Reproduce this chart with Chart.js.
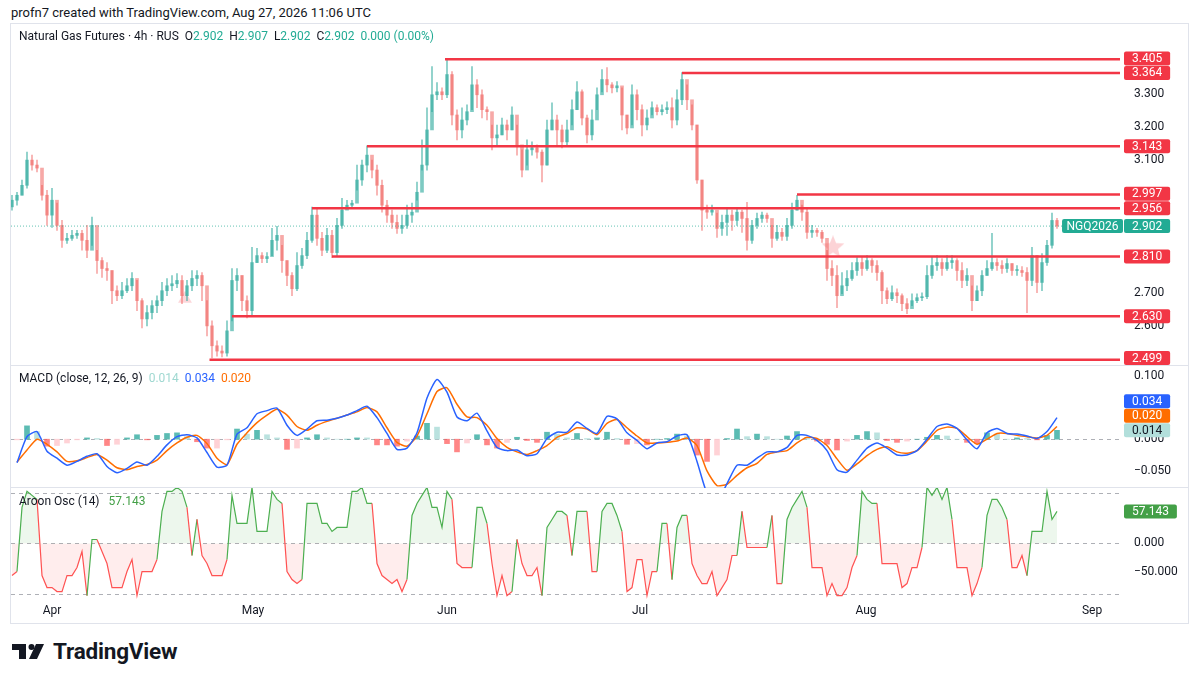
<!DOCTYPE html>
<html>
<head>
<meta charset="utf-8">
<title>Natural Gas Futures 4h</title>
<script src="https://cdn.jsdelivr.net/npm/chart.js@4.4.1/dist/chart.umd.min.js"></script>
<style>
  html, body { margin: 0; padding: 0; background: #fff; }
  body { width: 1200px; height: 675px; position: relative; overflow: hidden;
         font-family: Roboto, "Noto Sans", sans-serif; color: #131722; }
  .frame { position: absolute; left: 10px; top: 23px; width: 1177px; height: 599px; border: 1px solid #e0e3eb; }
  .sep { position: absolute; left: 10px; width: 1179px; height: 1px; background: #e0e3eb; }
  canvas { position: absolute; left: 0; }
  .txt { position: absolute; white-space: nowrap; z-index: 5; line-height: 14px; }
  .txt span { margin-left: 6px; }
  .up { color: #22ab94; }
  .logo { position: absolute; left: 12px; top: 638px; display: flex; align-items: center; }
  .logo b { font-size: 22.5px; font-weight: 700; margin-left: 9px; letter-spacing: -0.2px; }
</style>
</head>
<body>
<div class="txt" style="left:11px;top:6px;font-size:13px">profn7 created with TradingView.com, Aug 27, 2026 11:06 UTC</div>
<div class="frame"></div>
<div class="sep" style="top:365px"></div>
<div class="sep" style="top:487px"></div>

<canvas id="price" width="1200" height="341" style="top:24px"></canvas>
<canvas id="macd" width="1200" height="122" style="top:366px"></canvas>
<canvas id="aroon" width="1200" height="135" style="top:488px"></canvas>

<div class="txt" style="left:19px;top:29px;font-size:12px">Natural Gas Futures · 4h · RUS<span>O<i class="up" style="font-style:normal">2.902</i></span><span>H<i class="up" style="font-style:normal">2.907</i></span><span>L<i class="up" style="font-style:normal">2.902</i></span><span>C<i class="up" style="font-style:normal">2.902</i></span><span class="up">0.000 (0.00%)</span></div>
<div class="txt" style="left:19px;top:371px;font-size:12px">MACD (close, 12, 26, 9)<span style="color:#9fd8d1">0.014</span><span style="color:#2962ff">0.034</span><span style="color:#ff6d00">0.020</span></div>
<div class="txt" style="left:19px;top:494px;font-size:12px">Aroon Osc (14)<span style="color:#43a047;margin-left:9px">57.143</span></div>

<div class="logo">
  <svg width="32" height="15" viewBox="0 0 32 15"><path d="M0 0H14V15H7V6H0Z" fill="#131722"/><circle cx="19.5" cy="3" r="3" fill="#131722"/><path d="M24 0H32L25 15H17Z" fill="#131722"/></svg>
  <b>TradingView</b>
</div>

<script>
// ---------- data ----------
const monthLabels = ['Apr', 'May', 'Jun', 'Jul', 'Aug', 'Sep'];
const monthTicks = [8, 48.2, 87, 125.6, 170.8, 216];   // bar number where the month starts

const firstOpen = 2.960;
const closes = [
  2.980, 2.995, 3.025, 3.101, 3.086, 3.077, 2.995, 2.935, 2.980, 2.904,
  2.859, 2.865, 2.874, 2.880, 2.859, 2.829, 2.904, 2.798, 2.774, 2.768,
  2.707, 2.692, 2.707, 2.722, 2.744, 2.677, 2.622, 2.641, 2.662, 2.677,
  2.707, 2.722, 2.728, 2.738, 2.692, 2.722, 2.744, 2.753, 2.722, 2.601,
  2.541, 2.525, 2.519, 2.586, 2.738, 2.753, 2.677, 2.647, 2.792, 2.813,
  2.804, 2.810, 2.859, 2.874, 2.798, 2.753, 2.713, 2.783, 2.813, 2.859,
  2.935, 2.865, 2.829, 2.874, 2.822, 2.904, 2.950, 2.965, 2.971, 3.041,
  3.086, 3.116, 3.071, 3.025, 2.965, 2.935, 2.913, 2.895, 2.904, 2.935,
  2.944, 3.004, 3.086, 3.192, 3.298, 3.307, 3.298, 3.359, 3.237, 3.192,
  3.222, 3.247, 3.328, 3.298, 3.253, 3.247, 3.168, 3.177, 3.207, 3.192,
  3.237, 3.147, 3.071, 3.132, 3.138, 3.125, 3.086, 3.192, 3.222, 3.192,
  3.156, 3.192, 3.253, 3.307, 3.228, 3.177, 3.222, 3.298, 3.344, 3.328,
  3.319, 3.325, 3.237, 3.198, 3.298, 3.253, 3.207, 3.228, 3.259, 3.247,
  3.253, 3.259, 3.222, 3.283, 3.344, 3.283, 3.207, 3.041, 2.950, 2.944,
  2.950, 2.895, 2.913, 2.935, 2.919, 2.944, 2.925, 2.859, 2.904, 2.925,
  2.935, 2.925, 2.865, 2.883, 2.871, 2.904, 2.950, 2.980, 2.944, 2.883,
  2.889, 2.883, 2.865, 2.774, 2.753, 2.692, 2.722, 2.744, 2.768, 2.792,
  2.774, 2.798, 2.783, 2.762, 2.707, 2.683, 2.701, 2.692, 2.668, 2.653,
  2.677, 2.686, 2.689, 2.753, 2.783, 2.792, 2.774, 2.792, 2.798, 2.768,
  2.738, 2.753, 2.677, 2.707, 2.753, 2.774, 2.792, 2.783, 2.774, 2.789,
  2.768, 2.768, 2.762, 2.738, 2.813, 2.732, 2.792, 2.844, 2.919, 2.902
];
const highs = [
  2.995, 3.004, 3.041, 3.125, 3.116, 3.101, 3.025, 3.010, 3.016, 2.971,
  2.919, 2.880, 2.889, 2.889, 2.889, 2.904, 2.929, 2.829, 2.807, 2.792,
  2.768, 2.722, 2.732, 2.744, 2.762, 2.738, 2.683, 2.662, 2.677, 2.692,
  2.732, 2.744, 2.753, 2.759, 2.753, 2.738, 2.768, 2.768, 2.762, 2.677,
  2.616, 2.556, 2.541, 2.616, 2.774, 2.774, 2.753, 2.692, 2.838, 2.835,
  2.822, 2.822, 2.895, 2.901, 2.844, 2.798, 2.762, 2.822, 2.835, 2.883,
  2.959, 2.956, 2.883, 2.895, 2.889, 2.925, 2.986, 2.980, 2.980, 3.086,
  3.101, 3.144, 3.101, 3.086, 3.041, 2.980, 2.950, 2.935, 2.935, 2.965,
  2.971, 3.035, 3.162, 3.259, 3.383, 3.335, 3.319, 3.404, 3.368, 3.253,
  3.259, 3.268, 3.383, 3.344, 3.313, 3.262, 3.207, 3.207, 3.228, 3.222,
  3.262, 3.207, 3.132, 3.162, 3.156, 3.147, 3.132, 3.222, 3.274, 3.237,
  3.207, 3.222, 3.283, 3.338, 3.313, 3.237, 3.253, 3.319, 3.374, 3.380,
  3.335, 3.338, 3.319, 3.237, 3.328, 3.313, 3.268, 3.253, 3.277, 3.268,
  3.268, 3.277, 3.289, 3.313, 3.365, 3.328, 3.268, 3.207, 3.041, 2.965,
  2.965, 2.941, 2.935, 2.956, 2.950, 2.956, 2.950, 2.974, 2.919, 2.941,
  2.944, 2.941, 2.904, 2.904, 2.895, 2.925, 2.971, 2.995, 2.965, 2.956,
  2.904, 2.895, 2.889, 2.829, 2.798, 2.783, 2.762, 2.768, 2.792, 2.807,
  2.810, 2.813, 2.804, 2.798, 2.768, 2.716, 2.722, 2.713, 2.698, 2.683,
  2.698, 2.698, 2.701, 2.783, 2.810, 2.813, 2.804, 2.813, 2.813, 2.804,
  2.792, 2.774, 2.722, 2.722, 2.768, 2.798, 2.880, 2.804, 2.798, 2.804,
  2.789, 2.783, 2.780, 2.777, 2.838, 2.813, 2.819, 2.859, 2.941, 2.925
];
const lows = [
  2.950, 2.965, 2.995, 3.016, 3.071, 3.065, 2.980, 2.904, 2.898, 2.889,
  2.838, 2.850, 2.859, 2.865, 2.829, 2.807, 2.844, 2.759, 2.747, 2.738,
  2.668, 2.677, 2.683, 2.701, 2.707, 2.647, 2.595, 2.601, 2.622, 2.641,
  2.662, 2.692, 2.707, 2.716, 2.668, 2.677, 2.707, 2.722, 2.677, 2.571,
  2.504, 2.510, 2.507, 2.510, 2.616, 2.707, 2.647, 2.625, 2.631, 2.792,
  2.792, 2.792, 2.813, 2.829, 2.762, 2.722, 2.692, 2.707, 2.774, 2.804,
  2.853, 2.844, 2.813, 2.822, 2.807, 2.813, 2.895, 2.956, 2.956, 3.010,
  3.025, 3.065, 3.047, 2.995, 2.944, 2.913, 2.895, 2.880, 2.880, 2.895,
  2.913, 2.980, 3.071, 3.071, 3.247, 3.283, 3.283, 3.289, 3.207, 3.162,
  3.168, 3.207, 3.253, 3.259, 3.228, 3.222, 3.132, 3.147, 3.177, 3.162,
  3.192, 3.116, 3.050, 3.086, 3.116, 3.107, 3.035, 3.086, 3.192, 3.147,
  3.138, 3.147, 3.207, 3.253, 3.207, 3.153, 3.162, 3.253, 3.307, 3.307,
  3.304, 3.307, 3.192, 3.180, 3.207, 3.222, 3.174, 3.192, 3.237, 3.237,
  3.237, 3.241, 3.198, 3.207, 3.268, 3.253, 3.192, 3.031, 2.889, 2.925,
  2.935, 2.868, 2.874, 2.874, 2.889, 2.904, 2.883, 2.829, 2.850, 2.895,
  2.913, 2.913, 2.838, 2.859, 2.859, 2.859, 2.895, 2.950, 2.919, 2.865,
  2.868, 2.871, 2.853, 2.738, 2.722, 2.656, 2.698, 2.707, 2.738, 2.753,
  2.753, 2.768, 2.762, 2.738, 2.668, 2.668, 2.677, 2.671, 2.647, 2.638,
  2.662, 2.671, 2.677, 2.683, 2.744, 2.768, 2.753, 2.768, 2.774, 2.738,
  2.716, 2.722, 2.647, 2.677, 2.692, 2.753, 2.768, 2.768, 2.759, 2.762,
  2.753, 2.753, 2.750, 2.641, 2.722, 2.701, 2.707, 2.783, 2.835, 2.895
];

// horizontal levels drawn on the chart and the bar where each one starts
const levelValues = [3.405, 3.364, 3.143, 2.997, 2.956, 2.810, 2.630, 2.499];
const levelStart = [86.6, 134, 71, 157, 60, 64, 44, 39.5];

const priceTicks = [2.6, 2.7, 3.1, 3.2, 3.3];
const macdTicks = [-0.05, 0, 0.1];
const aroonTicks = [-50, 0];

// MACD and signal, read every second bar starting at bar 1
const macdLine = [
  -0.037, 0.004, 0.012, -0.019, -0.030, -0.041, -0.035, -0.027, -0.023, -0.043,
  -0.053, -0.046, -0.036, -0.041, -0.027, -0.009, 0.004, 0.007, 0.002, -0.021,
  -0.044, -0.041, 0.008, 0.018, 0.040, 0.045, 0.049, 0.022, 0.006, 0.016,
  0.029, 0.030, 0.033, 0.038, 0.045, 0.052, 0.034, 0.009, -0.016, -0.014,
  0.010, 0.065, 0.094, 0.074, 0.035, 0.029, 0.041, 0.013, -0.013, -0.018,
  -0.017, -0.026, -0.023, 0.001, 0.011, 0.011, 0.027, 0.017, 0.009, 0.036,
  0.032, 0.010, -0.002, -0.015, -0.006, -0.004, 0.005, 0.007, -0.035, -0.085,
  -0.098, -0.070, -0.041, -0.041, -0.030, -0.020, -0.020, -0.013, 0.006, 0.006,
  -0.002, -0.018, -0.048, -0.052, -0.033, -0.014, -0.006, -0.014, -0.025, -0.025,
  -0.018, 0.000, 0.020, 0.024, 0.017, -0.001, -0.015, 0.010, 0.017, 0.009,
  0.008, 0.005, 0.001, 0.012, 0.034
];
const signalLine = [
  -0.036, -0.017, 0.000, -0.008, -0.020, -0.035, -0.034, -0.029, -0.024, -0.033,
  -0.045, -0.048, -0.043, -0.040, -0.033, -0.018, -0.006, 0.003, 0.006, -0.007,
  -0.030, -0.040, -0.008, 0.010, 0.026, 0.038, 0.047, 0.038, 0.020, 0.014,
  0.022, 0.028, 0.033, 0.038, 0.043, 0.050, 0.043, 0.018, -0.005, -0.011,
  0.005, 0.040, 0.075, 0.081, 0.055, 0.035, 0.034, 0.022, 0.001, -0.013,
  -0.020, -0.024, -0.018, -0.010, 0.003, 0.009, 0.018, 0.016, 0.007, 0.025,
  0.031, 0.018, 0.005, -0.006, -0.006, -0.005, -0.003, 0.002, -0.010, -0.050,
  -0.073, -0.071, -0.057, -0.045, -0.038, -0.024, -0.020, -0.018, -0.006, 0.003,
  0.001, -0.010, -0.031, -0.049, -0.039, -0.026, -0.016, -0.012, -0.020, -0.022,
  -0.018, -0.003, 0.014, 0.019, 0.017, 0.004, -0.008, 0.000, 0.009, 0.009,
  0.006, 0.004, 0.002, 0.006, 0.020
];
const macdFirstBar = 1;
const macdEvery = 2;

const aroon = [
  -57.14, -50, 64.29, 92.86, 85.71, 78.57, -57.14, -78.57, -78.57, -85.71,
  -85.71, -57.14, -57.14, -42.86, -14.29, -92.86, 7.14, 7.14, -14.29, -35.71,
  -78.57, -78.57, -78.57, -50, -28.57, -92.86, -50, -50, -50, -28.57,
  57.14, 92.86, 92.86, 100, 92.86, 64.29, -21.43, 42.86, -21.43, -35.71,
  -57.14, -57.14, -57.14, -28.57, 85.71, 35.71, 35.71, 35.71, 100, 21.43,
  21.43, 21.43, 92.86, 78.57, 71.43, -50, -64.29, -71.43, -64.29, 71.43,
  71.43, 71.43, 35.71, 35.71, 21.43, 28.57, 28.57, 28.57, 92.86, 92.86,
  100, 71.43, 71.43, -35.71, -57.14, -64.29, -71.43, -64.29, -85.71, -64.29,
  50, 71.43, 85.71, 100, 64.29, 64.29, 28.57, 92.86, 78.57, -35.71,
  -42.86, -42.86, -42.86, 64.29, 64.29, 35.71, -35.71, -92.86, -57.14, -92.86,
  -85.71, 7.14, -35.71, -57.14, -57.14, -42.86, -92.86, 28.57, 42.86, 57.14,
  57.14, 50, -21.43, 57.14, 57.14, 57.14, -50, -50, 57.14, 71.43,
  71.43, 50, 21.43, -85.71, -78.57, -28.57, -28.57, -92.86, -50, -50,
  35.71, 35.71, -64.29, 28.57, 50, 50, -35.71, -57.14, -71.43, -71.43,
  -50, -92.86, -78.57, -64.29, -21.43, -21.43, 57.14, -7.14, -7.14, -7.14,
  -7.14, -7.14, 50, -71.43, -71.43, 42.86, 64.29, 78.57, 92.86, 64.29,
  -42.86, -42.86, -42.86, -92.86, -71.43, -92.86, -92.86, -78.57, -42.86, -21.43,
  92.86, 78.57, 71.43, 71.43, -35.71, -35.71, -35.71, -35.71, -78.57, -71.43,
  -42.86, -42.86, -7.14, 100, 85.71, 100, 78.57, 100, 42.86, -42.86,
  -42.86, -42.86, -92.86, -71.43, -42.86, 50, 78.57, 78.57, 64.29, 42.86,
  -42.86, -42.86, -21.43, -57.14, 21.43, 21.43, 21.43, 92.86, 42.86, 57.143
];

// faint drawing marks on the price pane (bar, price)
const markerX = [34.6, 164.2];
const markerY = [2.683, 2.838];

// ---------- look ----------
const X_MIN = -0.2, X_MAX = 221.6;
const UP = 'rgba(38,166,154,0.6)';
const DOWN = 'rgba(239,83,80,0.5)';
const RED = '#f23645';
const FONT = 'Roboto, "Noto Sans", sans-serif';
const AXIS_W = 68;

Chart.defaults.font.family = FONT;
Chart.defaults.font.size = 12;
Chart.defaults.color = '#131722';

const fmt = v => (v < 0 ? '\u2212' : '') + Math.abs(v).toFixed(3);

function yAxis(min, max, ticks) {
  return {
    position: 'right', min: min, max: max,
    afterFit: s => { s.width = AXIS_W; s.paddingTop = 0; s.paddingBottom = 0; },
    afterBuildTicks: s => { s.ticks = ticks.map(v => ({ value: v })); },
    ticks: { padding: 14, callback: v => fmt(v), color: '#131722', font: { size: 12 } },
    grid: { display: false, drawTicks: false },
    border: { display: false }
  };
}

function xAxis(show) {
  return {
    type: 'linear', min: X_MIN, max: X_MAX, offset: false, display: show,
    afterFit: s => { s.height = show ? 23 : 0; s.paddingLeft = 0; s.paddingRight = 0; },
    afterBuildTicks: s => { s.ticks = monthTicks.map(v => ({ value: v })); },
    ticks: { autoSkip: false, maxRotation: 0, padding: 4, callback: v => monthLabels[monthTicks.indexOf(v)] },
    grid: { display: false, drawTicks: false },
    border: { display: false }
  };
}

// dashed reference lines across a pane
function hLines(values) {
  return {
    id: 'hLines',
    beforeDatasetsDraw(chart) {
      const { ctx, chartArea: a, scales: { y } } = chart;
      ctx.save();
      ctx.strokeStyle = 'rgba(120,123,134,0.6)';
      ctx.lineWidth = 1;
      ctx.setLineDash([4, 4]);
      values.forEach(v => {
        const py = Math.round(y.getPixelForValue(v)) + 0.5;
        ctx.beginPath(); ctx.moveTo(a.left, py); ctx.lineTo(a.right, py); ctx.stroke();
      });
      ctx.restore();
    }
  };
}

// coloured value boxes on the right scale, pushed apart like TradingView does
function axisBoxes(items) {
  const H = 14;
  return {
    id: 'axisBoxes',
    afterDraw(chart) {
      const { ctx, chartArea: a, scales: { y } } = chart;
      const list = items.map(it => Object.assign({}, it, {
        py: Math.min(Math.max(y.getPixelForValue(it.value), a.top + H / 2), a.bottom - H / 2)
      }));
      list.sort((p, q) => q.py - p.py);
      for (let k = 1; k < list.length; k++) list[k].py = Math.min(list[k].py, list[k - 1].py - H - 0.5);
      ctx.save();
      ctx.font = '12px ' + FONT;
      ctx.textAlign = 'center';
      ctx.textBaseline = 'middle';
      const x0 = a.right + 4;
      list.forEach(it => {
        const w = ctx.measureText(it.text).width + 16;
        if (it.prefix) {
          const pw = ctx.measureText(it.prefix).width + 9;
          ctx.fillStyle = it.bg;
          ctx.beginPath(); ctx.roundRect(x0 - pw - 1, it.py - H / 2, pw, H, 2); ctx.fill();
          ctx.fillStyle = it.fg;
          ctx.fillText(it.prefix, x0 - 1 - pw / 2, it.py + 0.5);
        }
        ctx.fillStyle = it.bg;
        ctx.beginPath(); ctx.roundRect(x0, it.py - H / 2, w, H, 2); ctx.fill();
        ctx.fillStyle = it.fg;
        ctx.fillText(it.text, x0 + w / 2, it.py + 0.5);
      });
      ctx.restore();
    }
  };
}

function starImage(size, color) {
  const c = document.createElement('canvas');
  c.width = c.height = size;
  const g = c.getContext('2d');
  g.fillStyle = color;
  g.beginPath();
  for (let k = 0; k < 10; k++) {
    const r = k % 2 ? size * 0.22 : size * 0.5;
    const ang = -Math.PI / 2 + k * Math.PI / 5;
    g.lineTo(size / 2 + r * Math.cos(ang), size / 2 + r * Math.sin(ang));
  }
  g.closePath();
  g.fill();
  return c;
}

const baseOptions = {
  responsive: false,
  animation: false,
  events: [],
  layout: { autoPadding: false, padding: { left: 11, right: 12, top: 0, bottom: 0 } },
  plugins: { legend: { display: false }, tooltip: { enabled: false } }
};

// ---------- price pane ----------
const opens = closes.map((c, i) => i === 0 ? firstOpen : closes[i - 1]);
const candleColors = closes.map((c, i) => c >= opens[i] ? UP : DOWN);
const lastPrice = closes[closes.length - 1];

const levelSets = levelValues.map((v, k) => ({
  type: 'line',
  data: [{ x: levelStart[k], y: v }, { x: X_MAX, y: v }],
  borderColor: RED, borderWidth: 2.5, pointRadius: 0, order: 1
}));

new Chart(document.getElementById('price'), {
  type: 'bar',
  data: {
    datasets: [
      {
        data: closes.map((c, i) => ({ x: i, y: [lows[i], highs[i]] })),
        backgroundColor: candleColors, barThickness: 1, grouped: false, order: 5
      },
      {
        data: closes.map((c, i) => ({ x: i, y: [opens[i], c] })),
        backgroundColor: candleColors, barThickness: 3, minBarLength: 1, grouped: false, order: 4
      },
      {
        type: 'line',
        data: [{ x: X_MIN, y: lastPrice }, { x: X_MAX, y: lastPrice }],
        borderColor: 'rgba(34,171,148,0.7)', borderWidth: 1, borderDash: [1, 2], pointRadius: 0, order: 3
      },
      {
        type: 'line', showLine: false,
        data: markerX.map((x, k) => ({ x: x, y: markerY[k] })),
        pointStyle: ['triangle', starImage(24, 'rgba(242,54,69,0.22)')],
        pointRadius: [8, 12], backgroundColor: 'rgba(242,54,69,0.2)', borderWidth: 0, order: 6
      }
    ].concat(levelSets)
  },
  options: Object.assign({}, baseOptions, {
    scales: { x: xAxis(false), y: yAxis(2.483, 3.5115, priceTicks) }
  }),
  plugins: [axisBoxes(
    levelValues.map(v => ({ value: v, text: v.toFixed(3), bg: RED, fg: '#ffffff' }))
      .concat([{ value: lastPrice, text: lastPrice.toFixed(3), prefix: 'NGQ2026', bg: '#22ab94', fg: '#ffffff' }])
  )]
});

// ---------- MACD pane ----------
const macdBars = macdLine.map((v, k) => macdFirstBar + k * macdEvery);
const hist = macdLine.map((v, k) => v - signalLine[k]);
const histColors = hist.map((h, k) => {
  const prev = k ? hist[k - 1] : h;
  if (h >= 0) return h >= prev ? 'rgba(38,166,154,0.75)' : 'rgba(178,223,219,0.9)';
  return h < prev ? 'rgba(255,82,82,0.7)' : 'rgba(255,205,210,0.9)';
});

new Chart(document.getElementById('macd'), {
  type: 'bar',
  data: {
    datasets: [
      {
        data: hist.map((h, k) => ({ x: macdBars[k], y: h })),
        backgroundColor: histColors, barThickness: 5, grouped: false, order: 3
      },
      {
        type: 'line', data: macdLine.map((v, k) => ({ x: macdBars[k], y: v })),
        borderColor: '#2962ff', borderWidth: 1.5, pointRadius: 0, tension: 0.2, order: 1
      },
      {
        type: 'line', data: signalLine.map((v, k) => ({ x: macdBars[k], y: v })),
        borderColor: '#ff6d00', borderWidth: 1.5, pointRadius: 0, tension: 0.2, order: 2
      }
    ]
  },
  options: Object.assign({}, baseOptions, {
    scales: { x: xAxis(false), y: yAxis(-0.0769, 0.1153, macdTicks) }
  }),
  plugins: [hLines([0]), axisBoxes([
    { value: macdLine[macdLine.length - 1], text: fmt(macdLine[macdLine.length - 1]), bg: '#2962ff', fg: '#ffffff' },
    { value: signalLine[signalLine.length - 1], text: fmt(signalLine[signalLine.length - 1]), bg: '#ff6d00', fg: '#ffffff' },
    { value: hist[hist.length - 1], text: fmt(hist[hist.length - 1]), bg: '#b2dfdb', fg: '#131722' }
  ])]
});

// ---------- Aroon oscillator pane + time axis ----------
const GREEN_L = '#4caf50', RED_L = '#ff5252';
new Chart(document.getElementById('aroon'), {
  type: 'line',
  data: {
    datasets: [{
      data: aroon.map((v, i) => ({ x: i, y: v })),
      borderWidth: 1.2, pointRadius: 0,
      borderColor: GREEN_L,
      segment: { borderColor: c => c.p1.parsed.y >= 0 ? GREEN_L : RED_L },
      fill: { target: { value: 0 }, above: 'rgba(76,175,80,0.1)', below: 'rgba(255,82,82,0.1)' }
    }]
  },
  options: Object.assign({}, baseOptions, {
    scales: { x: xAxis(true), y: yAxis(-100.7, 98.9, aroonTicks) }
  }),
  plugins: [hLines([90, 0, -90]), axisBoxes([
    { value: aroon[aroon.length - 1], text: fmt(aroon[aroon.length - 1]), bg: '#43a047', fg: '#ffffff' }
  ])]
});
</script>
</body>
</html>
